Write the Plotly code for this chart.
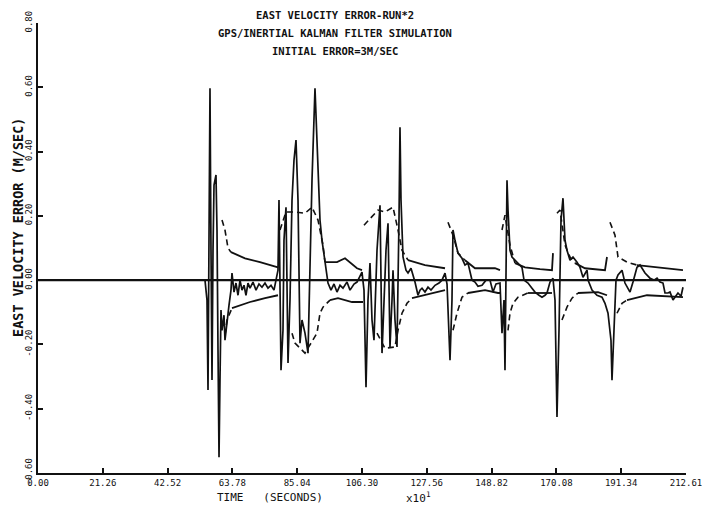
import plotly.graph_objects as go

# ---------------- data (time in units of 10 s, error in m/s) ----------------
err_t = [54.79, 55.45, 55.78, 56.11, 56.43, 56.76, 57.09, 57.42, 57.75, 58.40, 58.73, 59.06, 59.39, 59.71,
         60.04, 60.37, 61.03, 61.35, 62.01, 62.67, 63.32, 63.65, 64.31, 64.96, 65.62, 66.28, 66.93, 67.59,
         68.24, 68.90, 69.56, 70.54, 71.53, 72.51, 73.49, 74.48, 75.46, 76.45, 77.43, 78.09, 78.74,
         79.07, 79.40, 79.73, 80.38, 80.71, 81.37, 82.03, 82.68, 83.34, 83.99, 84.65, 85.31, 85.96, 86.62,
         87.60, 88.59, 89.24, 89.90, 90.88, 91.54, 91.87, 92.52, 93.18, 94.16, 95.15, 96.13, 97.12, 98.10,
         99.09, 100.07, 101.38, 102.37, 103.68, 104.66, 105.65, 106.30, 106.96,
         107.62, 108.27, 108.93, 109.59, 110.24, 111.23, 112.21, 112.87, 113.52, 114.18, 114.84, 115.49,
         116.15, 116.48, 117.13, 117.79, 118.44, 118.77, 119.10, 119.76, 120.74, 121.40, 122.38, 123.04,
         123.69, 124.68, 125.33, 125.99, 126.97, 127.96, 128.94, 130.26, 131.57, 132.55, 133.54, 134.20,
         134.85, 135.18, 135.83, 136.16, 136.82, 137.80, 139.11, 140.10, 141.08, 142.40, 143.38, 144.36,
         145.68, 146.99, 148.30, 149.29, 150.27, 151.58,
         152.24, 152.89, 153.22, 153.55, 153.88, 154.21, 154.86, 155.52, 156.50, 157.49, 158.80, 159.46,
         160.77, 162.08, 163.07, 164.38, 165.36, 166.35, 167.00, 167.99, 168.97,
         169.63, 170.28, 170.94, 171.60, 172.25, 172.91, 173.56, 174.55, 175.53, 176.85, 177.83, 178.81,
         180.13, 180.46, 181.77, 183.41, 185.05, 186.03, 187.02, 188.00,
         188.33, 188.99, 189.64, 190.30, 190.95, 191.61, 192.59, 194.24, 195.22, 196.53, 197.52, 199.16,
         200.80, 202.11, 203.10, 204.08, 205.06, 205.72, 206.70, 207.36, 208.34, 209.33, 209.98, 210.97,
         211.62]
err_v = [0.0, -0.062, -0.342, 0.249, 0.597, 0.093, -0.311, 0.093, 0.296, 0.327, 0.156, -0.218, -0.551, -0.311,
         -0.093, -0.156, -0.109, -0.187, -0.124, -0.078, -0.031, 0.022, -0.037, -0.009, -0.047, 0.0, -0.031, -0.016,
         -0.047, -0.009, -0.025, -0.006, -0.031, -0.012, -0.022, -0.009, -0.025, -0.016, -0.031, 0.0, 0.031,
         0.249, -0.062, -0.280, -0.156, 0.124, 0.227, -0.258, -0.062, 0.249, 0.373, 0.436, 0.249, -0.196, -0.124,
         -0.165, -0.227, 0.093, 0.311, 0.597, 0.436, 0.311, 0.187, 0.124, 0.062, -0.009, -0.031, -0.012, -0.037,
         -0.016, -0.025, -0.006, -0.031, -0.012, -0.006, 0.016, 0.025, -0.031,
         -0.333, -0.062, 0.053, -0.124, -0.187, 0.093, 0.233, -0.227, -0.062, 0.093, 0.177, -0.208,
         -0.062, 0.031, -0.124, -0.208, 0.187, 0.476, 0.249, 0.072, 0.031, 0.022, 0.037, 0.016,
         -0.006, -0.047, -0.031, -0.025, -0.037, -0.022, -0.031, -0.016, -0.009, 0.0, 0.022, -0.012,
         -0.156, -0.249, -0.062, 0.156, 0.124, 0.084, 0.068, 0.047, 0.053, 0.0, -0.006, -0.019,
         -0.016, 0.0, 0.0, -0.037, -0.012, -0.009,
         -0.165, -0.062, -0.280, -0.062, 0.311, 0.218, 0.093, 0.072, 0.062, 0.053, 0.040, 0.0,
         -0.009, -0.025, -0.037, -0.047, -0.053, -0.047, -0.040, -0.006, 0.006,
         -0.062, -0.426, -0.156, 0.187, 0.255, 0.124, 0.093, 0.062, 0.072, 0.056, 0.040, 0.009,
         0.031, 0.0, -0.031, -0.047, -0.053, -0.072, -0.103, -0.187,
         -0.311, -0.156, 0.0, 0.016, 0.022, 0.031, -0.009, -0.037, -0.006, 0.040, 0.047, 0.022,
         0.006, 0.0, 0.006, -0.006, -0.009, -0.040, -0.040, -0.037, -0.062, -0.047, -0.040, -0.050,
         -0.022]

# +1 sigma bound: dashed portions (near updates) and solid portions (None = gap)
up_dash_t = [60.37, 61.35, 62.34, 63.32, None,
             79.40, 81.37, 84.32, 87.60, 89.90, 91.87, 93.51, 94.16, None,
             106.96, 111.55, 113.85, 116.48, 118.12, 119.43, 121.40, None,
             134.52, 136.16, 137.80, 140.10, None,
             152.24, 153.22, 154.86, 156.50, None,
             170.28, 171.27, 172.91, 174.55, 176.19, None,
             187.67, 189.31, 190.30, 193.25, 196.53]
up_dash_v = [0.187, 0.156, 0.100, 0.087, None,
             0.156, 0.212, 0.212, 0.208, 0.227, 0.187, 0.109, 0.056, None,
             0.171, 0.218, 0.212, 0.227, 0.156, 0.093, 0.062, None,
             0.180, 0.140, 0.084, 0.062, None,
             0.156, 0.202, 0.109, 0.053, None,
             0.208, 0.218, 0.109, 0.072, 0.053, None,
             0.180, 0.140, 0.072, 0.056, 0.047]
up_solid_t = [63.32, 67.92, 72.84, 76.12, 78.74, None,
              94.16, 98.10, 100.73, 102.37, 104.66, 106.30, None,
              121.40, 126.97, 133.54, None,
              140.10, 143.38, 149.94, 151.58, None,
              156.50, 159.78, 164.71, 168.64, 168.97, None,
              176.19, 179.47, 186.03, 186.69, None,
              196.53, 205.06, 209.98, 211.62]
up_solid_v = [0.087, 0.068, 0.056, 0.047, 0.040, None,
              0.056, 0.056, 0.068, 0.056, 0.037, 0.031, None,
              0.062, 0.047, 0.037, None,
              0.062, 0.037, 0.037, 0.031, None,
              0.053, 0.040, 0.034, 0.031, 0.084, None,
              0.053, 0.037, 0.031, 0.072, None,
              0.047, 0.037, 0.031, 0.031]

# -1 sigma bound
lo_dash_t = [61.35, 62.01, 62.67, 63.65, None,
             83.34, 84.32, 87.60, 91.54, 92.52, 93.51, 95.81, None,
             111.23, 113.85, 117.13, 118.12, 119.43, 121.07, 122.71, None,
             136.16, 137.47, 139.11, 141.08, None,
             154.21, 154.86, 155.85, 157.49, 160.77, None,
             171.92, 173.56, 175.21, 177.17, None,
             189.97, 191.61, 193.25]
lo_dash_v = [-0.171, -0.124, -0.109, -0.087, None,
             -0.165, -0.196, -0.227, -0.165, -0.103, -0.084, -0.062, None,
             -0.165, -0.212, -0.208, -0.156, -0.103, -0.072, -0.056, None,
             -0.156, -0.103, -0.053, -0.040, None,
             -0.156, -0.103, -0.072, -0.053, -0.040, None,
             -0.124, -0.084, -0.056, -0.040, None,
             -0.103, -0.072, -0.062]
lo_solid_t = [63.65, 69.56, 74.48, 78.74, None,
              95.81, 98.43, 103.02, 106.63, None,
              122.71, 126.97, 133.54, None,
              141.08, 146.66, 150.93, 151.58, None,
              160.77, 168.64, None,
              177.17, 183.74, 186.69, None,
              193.25, 199.81, 211.62]
lo_solid_v = [-0.087, -0.068, -0.056, -0.047, None,
              -0.062, -0.056, -0.068, -0.068, None,
              -0.056, -0.047, -0.031, None,
              -0.040, -0.031, -0.040, -0.040, None,
              -0.040, -0.040, None,
              -0.040, -0.037, -0.047, None,
              -0.062, -0.047, -0.053]

zero_t = [0.0, 212.61]
zero_v = [0.0, 0.0]

x_ticks = [0.00, 21.26, 42.52, 63.78, 85.04, 106.30, 127.56, 148.82, 170.08, 191.34, 212.61]
x_tick_text = ["0.00", "21.26", "42.52", "63.78", "85.04", "106.30", "127.56", "148.82", "170.08", "191.34", "212.61"]
y_ticks = [-0.6, -0.4, -0.2, 0.0, 0.2, 0.4, 0.6, 0.8]
y_tick_text = ["-0.60", "-0.40", "-0.20", "0.00", "0.20", "0.40", "0.60", "0.80"]

title_lines = ["EAST VELOCITY ERROR-RUN*2", "GPS/INERTIAL KALMAN FILTER SIMULATION", "INITIAL ERROR=3M/SEC"]

FONT = "DejaVu Sans Mono"
INK = "#111111"

# page has an 8px body margin: plot area sits at window x 38..686, y 23..473
ML, MR, MT, MB = 30, 32, 15, 43
PW, PH = 710 - ML - MR, 508 - MT - MB

fig = go.Figure()
fig.add_trace(go.Scatter(x=zero_t, y=zero_v, mode="lines", line=dict(color=INK, width=2.4), hoverinfo="skip"))
fig.add_trace(go.Scatter(x=up_dash_t, y=up_dash_v, mode="lines", connectgaps=False,
                         line=dict(color=INK, width=1.6, dash="6px,4px")))
fig.add_trace(go.Scatter(x=lo_dash_t, y=lo_dash_v, mode="lines", connectgaps=False,
                         line=dict(color=INK, width=1.6, dash="6px,4px")))
fig.add_trace(go.Scatter(x=up_solid_t, y=up_solid_v, mode="lines", connectgaps=False,
                         line=dict(color=INK, width=1.8)))
fig.add_trace(go.Scatter(x=lo_solid_t, y=lo_solid_v, mode="lines", connectgaps=False,
                         line=dict(color=INK, width=1.8)))
fig.add_trace(go.Scatter(x=err_t, y=err_v, mode="lines", line=dict(color=INK, width=1.7)))

fig.update_layout(
    width=710, height=508,
    margin=dict(l=ML, r=MR, t=MT, b=MB, autoexpand=False),
    paper_bgcolor="white", plot_bgcolor="white",
    showlegend=False,
    font=dict(family=FONT, color=INK, size=10),
)
fig.update_xaxes(range=[0, 212.61], tickvals=x_ticks, ticktext=x_tick_text,
                 showgrid=False, zeroline=False, showline=True, linecolor=INK, linewidth=2.2,
                 ticks="inside", ticklen=5, tickwidth=1.5, tickcolor=INK,
                 tickfont=dict(family=FONT, size=9, color=INK))
fig.update_yaxes(range=[-0.6, 0.8], tickvals=y_ticks, ticktext=y_tick_text, tickangle=-90,
                 showgrid=False, zeroline=False, showline=True, linecolor=INK, linewidth=2.2,
                 ticks="inside", ticklen=5, tickwidth=1.5, tickcolor=INK,
                 tickfont=dict(family=FONT, size=9, color=INK))

for i, line in enumerate(title_lines):
    fig.add_annotation(text="<b>" + line + "</b>", xref="paper", yref="paper", x=(327 - ML) / PW, y=1.0,
                       yshift=8 - 18 * i, xanchor="center", yanchor="middle",
                       showarrow=False, font=dict(family=FONT, size=10.5, color=INK))

fig.add_annotation(text="<b>EAST VELOCITY ERROR (M/SEC)</b>", xref="paper", yref="paper",
                   x=0, xshift=-20, y=(MT + PH - 220) / PH, textangle=-90, showarrow=False,
                   xanchor="center", yanchor="middle", font=dict(family=FONT, size=13.5, color=INK))
fig.add_annotation(text="TIME   (SECONDS)", xref="paper", yref="paper",
                   x=(262 - ML) / PW, y=0, yshift=-24, showarrow=False,
                   xanchor="center", yanchor="middle", font=dict(family=FONT, size=11, color=INK))
fig.add_annotation(text="x10<sup>1</sup>", xref="paper", yref="paper",
                   x=(410 - ML) / PW, y=0, yshift=-24, showarrow=False,
                   xanchor="center", yanchor="middle", font=dict(family=FONT, size=11, color=INK))

fig.write_html("out.html")
